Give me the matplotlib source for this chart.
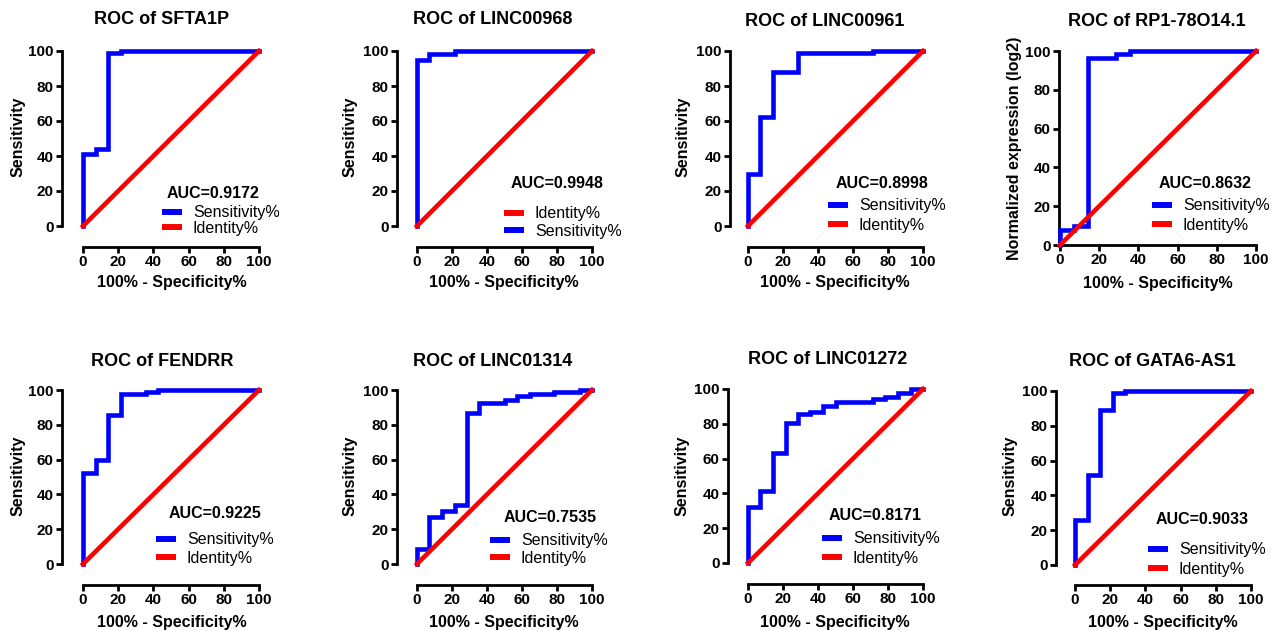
import matplotlib
matplotlib.use("Agg")
import matplotlib.pyplot as plt

plt.rcParams['font.family'] = ['Liberation Sans', 'DejaVu Sans']

W, H, DPI = 1271, 631, 100

# ---------------- data ----------------
genes = ["SFTA1P", "LINC00968", "LINC00961", "RP1-78O14.1",
         "FENDRR", "LINC01314", "LINC01272", "GATA6-AS1"]
auc_values = ["0.9172", "0.9948", "0.8998", "0.8632",
              "0.9225", "0.7535", "0.8171", "0.9033"]
y_labels = ["Sensitivity", "Sensitivity", "Sensitivity", "Normalized expression (log2)",
            "Sensitivity", "Sensitivity", "Sensitivity", "Sensitivity"]

identity_x = [0, 100]
identity_y = [0, 100]

sfta1p_x = [0, 0, 7.14, 7.14, 14.29, 14.29, 21.43, 21.43, 100]
sfta1p_y = [0, 41, 41, 44, 44, 99, 99, 100, 100]

linc00968_x = [0, 0, 7.14, 7.14, 21.43, 21.43, 100]
linc00968_y = [0, 95, 95, 98.5, 98.5, 100, 100]

linc00961_x = [0, 0, 7.14, 7.14, 14.29, 14.29, 28.57, 28.57, 71.43, 71.43, 100]
linc00961_y = [0, 30, 30, 62.5, 62.5, 88, 88, 99, 99, 100, 100]

rp1_x = [0, 0, 7.14, 7.14, 14.29, 14.29, 28.57, 28.57, 35.71, 35.71, 100]
rp1_y = [0, 7.5, 7.5, 10, 10, 96.5, 96.5, 98.5, 98.5, 100, 100]

fendrr_x = [0, 0, 7.14, 7.14, 14.29, 14.29, 21.43, 21.43, 35.71, 35.71, 42.86, 42.86, 100]
fendrr_y = [0, 52.5, 52.5, 60, 60, 85.5, 85.5, 97.5, 97.5, 98.8, 98.8, 100, 100]

linc01314_x = [0, 0, 7.14, 7.14, 14.29, 14.29, 21.43, 21.43, 28.57, 28.57, 35.71, 35.71,
               50, 50, 57.14, 57.14, 64.29, 64.29, 78.57, 78.57, 92.86, 92.86, 100]
linc01314_y = [0, 8.5, 8.5, 27, 27, 30.5, 30.5, 34, 34, 86.5, 86.5, 92.5,
               92.5, 94, 94, 96.5, 96.5, 97.5, 97.5, 99, 99, 100, 100]

linc01272_x = [0, 0, 7.14, 7.14, 14.29, 14.29, 21.43, 21.43, 28.57, 28.57, 35.71, 35.71,
               42.86, 42.86, 50, 50, 71.43, 71.43, 78.57, 78.57, 85.71, 85.71, 92.86, 92.86, 100]
linc01272_y = [0, 32, 32, 41.5, 41.5, 63.5, 63.5, 80.5, 80.5, 85.5, 85.5, 87,
               87, 90.5, 90.5, 92.5, 92.5, 94, 94, 95.5, 95.5, 97.5, 97.5, 100, 100]

gata6_x = [0, 0, 7.14, 7.14, 14.29, 14.29, 21.43, 21.43, 28.57, 28.57, 100]
gata6_y = [0, 26, 26, 51.5, 51.5, 89, 89, 99, 99, 100, 100]

curves_x = [sfta1p_x, linc00968_x, linc00961_x, rp1_x, fendrr_x, linc01314_x, linc01272_x, gata6_x]
curves_y = [sfta1p_y, linc00968_y, linc00961_y, rp1_y, fendrr_y, linc01314_y, linc01272_y, gata6_y]
identity_first = [False, True, False, False, False, False, False, False]

ticks = [0, 20, 40, 60, 80, 100]

# ---------------- layout (pixels) ----------------
# x0, x1 (data 0..100), ytop (100), ybot (0), y-spine offset, x-spine offset
boxes = [
    (83, 259, 51, 226, 21, 21),
    (417, 592, 51, 226, 20, 21),
    (748, 923, 51, 226, 18, 21),
    (1060, 1256, 51, 245, 1, 0),
    (83, 259, 390, 564, 21, 21),
    (417, 592, 390, 564, 20, 21),
    (748, 923, 389, 563, 20, 21),
    (1075, 1251, 391, 565, 19, 20),
]
title_pos = [(162, 20), (493, 20), (825, 21), (1157, 21),
             (162, 361), (493, 361), (828, 360), (1152, 361)]
xlabel_pos = [(172, 283), (504, 283), (835, 282), (1158, 283),
              (172, 623), (504, 623), (835, 622), (1163, 623)]
ylabel_pos = [(18, 137), (350, 137), (683, 137), (1015, 148),
              (18, 476), (350, 476), (682, 476), (1010, 476)]
auc_pos = [(213, 193), (557, 184), (882, 183), (1205, 183),
           (215, 514), (550, 517), (875, 516), (1202, 519)]
# legend: line start x, first row y, second row y
leg_pos = [(162, 212, 229), (504, 212, 233), (828, 204, 227), (1152, 204, 227),
           (156, 538, 560), (490, 539, 560), (822, 537, 560), (1148, 548, 571)]

fig = plt.figure(figsize=(W / DPI, H / DPI), dpi=DPI)
PT = 72.0 / DPI
blue = "#0000FF"
red = "#FF0000"
leg_fs = 11.5

for i in range(8):
    x0, x1, yt, yb, oy, ox = boxes[i]
    ax = fig.add_axes([x0 / W, 1 - yb / H, (x1 - x0) / W, (yb - yt) / H])
    ax.set_xlim(0, 100)
    ax.set_ylim(0, 100)

    def fx(px):
        return (px - x0) / (x1 - x0)

    def fy(py):
        return (yb - py) / (yb - yt)

    lb, = ax.plot(curves_x[i], curves_y[i], color=blue, lw=3.3, clip_on=False,
                  solid_joinstyle='miter', zorder=3, label="Sensitivity%")
    lr, = ax.plot(identity_x, identity_y, color=red, lw=3.3, clip_on=False,
                  zorder=4, label="Identity%")

    for s in ['top', 'right']:
        ax.spines[s].set_visible(False)
    ax.spines['left'].set_position(('outward', oy * PT))
    ax.spines['bottom'].set_position(('outward', ox * PT))
    for s in ['left', 'bottom']:
        ax.spines[s].set_linewidth(2.0)
    ax.set_xticks(ticks)
    ax.set_yticks(ticks)
    ax.tick_params(direction='out', length=4, width=2.0, pad=2, labelsize=11)
    for lab in ax.get_xticklabels() + ax.get_yticklabels():
        lab.set_fontweight('bold')

    t = ax.set_title("ROC of " + genes[i], fontsize=13, fontweight='bold',
                     pad=0, y=fy(title_pos[i][1]))
    t.set_va('center')
    t.set_x(fx(title_pos[i][0]))

    ax.set_xlabel("100% - Specificity%", fontsize=11.5, fontweight='bold')
    ax.xaxis.set_label_coords(fx(xlabel_pos[i][0]), fy(xlabel_pos[i][1]))
    ax.xaxis.label.set_va('center')
    ax.set_ylabel(y_labels[i], fontsize=11.5, fontweight='bold')
    ax.yaxis.set_label_coords(fx(ylabel_pos[i][0]), fy(ylabel_pos[i][1]))
    ax.yaxis.label.set_va('center')

    ax.text(fx(auc_pos[i][0]), fy(auc_pos[i][1]), "AUC=" + auc_values[i],
            transform=ax.transAxes, ha='center', va='center',
            fontsize=11.5, fontweight='bold')

    lx, r1, r2 = leg_pos[i]
    handles = [lr, lb] if identity_first[i] else [lb, lr]
    gap_px = r2 - r1
    fs_px = leg_fs / PT
    spacing = max(0.0, (gap_px - fs_px * 1.17) / fs_px)
    leg = ax.legend(handles=handles, loc='center left',
                    bbox_to_anchor=(fx(lx), fy((r1 + r2) / 2)),
                    bbox_transform=ax.transAxes, frameon=False,
                    fontsize=leg_fs, handlelength=20 / fs_px,
                    handletextpad=11 / fs_px, labelspacing=spacing,
                    borderpad=0, borderaxespad=0)
    for h in leg.get_lines():
        h.set_linewidth(4.3)
        h.set_solid_capstyle('butt')

fig.savefig("out.png", dpi=DPI)
